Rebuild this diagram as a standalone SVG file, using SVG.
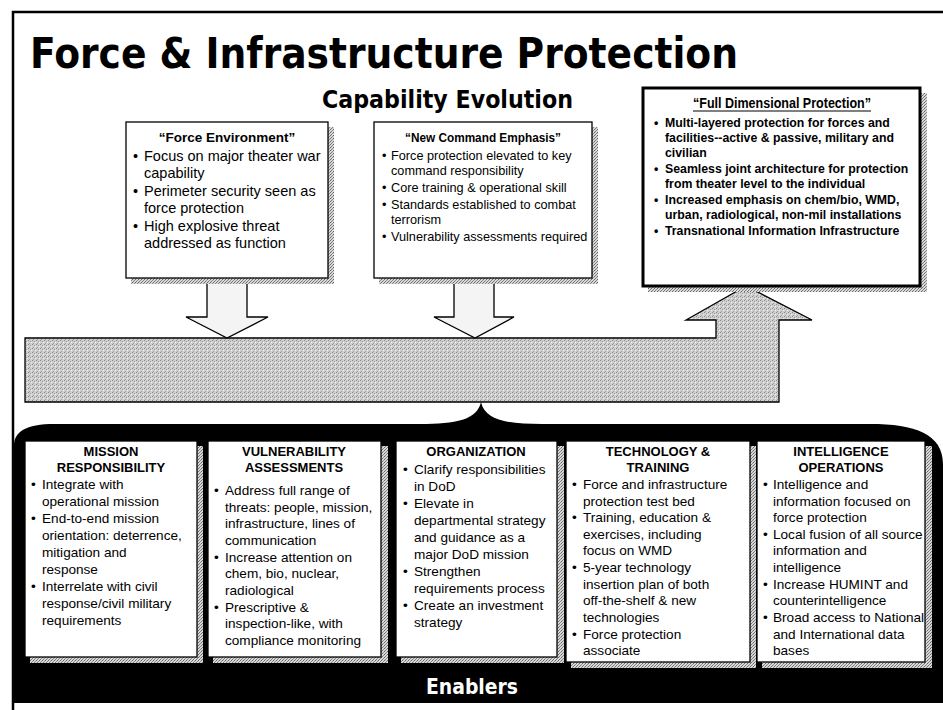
<svg xmlns="http://www.w3.org/2000/svg" width="943" height="710" viewBox="0 0 943 710">
<defs>
<style>
.t{font-family:"Liberation Sans",Arial,sans-serif;fill:#000}
.b{font-weight:bold}
.s13{font-size:13px}
.bt{font-size:13.6px}
.box{fill:#fff;stroke:#000;stroke-width:1.3}
.sh{fill:url(#dith)}
.c{text-anchor:middle}
.v{font-family:"DejaVu Sans",Verdana,sans-serif;font-weight:bold}
.arr{fill:#f4f4f4;stroke:#000;stroke-width:1.3}
</style>
<pattern id="dith" width="3" height="3" patternUnits="userSpaceOnUse">
<rect width="3" height="3" fill="#d8d8d8"/>
<rect width="1" height="1" fill="#666"/>
<rect x="2" y="1" width="1" height="1" fill="#888"/>
<rect x="1" y="2" width="1" height="1" fill="#777"/>
</pattern>
<pattern id="band" width="4" height="4" patternUnits="userSpaceOnUse">
<rect width="4" height="4" fill="#cfcfcf"/>
<rect width="1" height="1" fill="#8a8a8a"/>
<rect x="2" y="1" width="1" height="1" fill="#9a9a9a"/>
<rect x="1" y="3" width="1" height="1" fill="#a0a0a0"/>
<rect x="3" y="2" width="1" height="1" fill="#f0f0f0"/>
</pattern>
</defs>
<rect width="943" height="710" fill="#fff"/>
<path d="M13,710 V12 H943" fill="none" stroke="#000" stroke-width="2.5"/>

<text class="v" x="30" y="68" font-size="42" textLength="708" lengthAdjust="spacingAndGlyphs">Force &amp; Infrastructure Protection</text>
<text class="v" x="322" y="108" font-size="24" textLength="251" lengthAdjust="spacingAndGlyphs">Capability Evolution</text>

<g id="connectors">
<path d="M14,703 V446 C14,432 25,424 55,424 H420 C456,424 477,420 481,402 C485,420 506,424 542,424 H870 C915,424 943,434 943,464 V703 Z" fill="#000"/>
<path d="M25,338 H716 V320 H686 L746,286 L812,320 H779 V402 H25 Z" fill="url(#band)" stroke="#000" stroke-width="1.3"/>
<path class="arr" d="M207,278 H247 V317 H268 L227,338 L186,317 H207 Z"/>
<path class="arr" d="M454,278 H494 V317 H514 L475,338 L434,317 H454 Z"/>
</g>

<g id="force-environment">
<rect class="sh" x="131" y="127" width="203" height="157"/>
<rect class="box" x="126" y="122" width="202" height="156"/>
<text class="t b c" x="227" y="142" font-size="13.5">“Force Environment”</text>
<g class="t" font-size="14.5">
<text x="133" y="161">•</text><text x="144" y="161">Focus on major theater war</text>
<text x="144" y="178">capability</text>
<text x="133" y="196">•</text><text x="144" y="196">Perimeter security seen as</text>
<text x="144" y="213">force protection</text>
<text x="133" y="231">•</text><text x="144" y="231">High explosive threat</text>
<text x="144" y="248">addressed as function</text>
</g>
</g>

<g id="new-command-emphasis">
<rect class="sh" x="379" y="127" width="219" height="157"/>
<rect class="box" x="374" y="122" width="218" height="156"/>
<text class="t b c" x="483" y="142" font-size="13" textLength="156" lengthAdjust="spacingAndGlyphs">“New Command Emphasis”</text>
<g class="t" font-size="12.7">
<text x="382" y="160">•</text><text x="391" y="160">Force protection elevated to key</text>
<text x="391" y="175">command responsibility</text>
<text x="382" y="192">•</text><text x="391" y="192">Core training &amp; operational skill</text>
<text x="382" y="209">•</text><text x="391" y="209">Standards established to combat</text>
<text x="391" y="224">terrorism</text>
<text x="382" y="241">•</text><text x="391" y="241">Vulnerability assessments required</text>
</g>
</g>

<g id="full-dimensional-protection">
<rect class="sh" x="648" y="93" width="279" height="199"/>
<rect x="643" y="88" width="277" height="198" fill="#fff" stroke="#000" stroke-width="3"/>
<text class="t b c" x="782" y="108" font-size="14" textLength="178" lengthAdjust="spacingAndGlyphs">“Full Dimensional Protection”</text>
<line x1="693" y1="111" x2="871" y2="111" stroke="#000" stroke-width="1.2"/>
<g class="t b" font-size="12.3">
<text x="654" y="127">•</text><text x="665" y="127">Multi-layered protection for forces and</text>
<text x="665" y="142">facilities--active &amp; passive, military and</text>
<text x="665" y="157">civilian</text>
<text x="654" y="173">•</text><text x="665" y="173">Seamless joint architecture for protection</text>
<text x="665" y="188">from theater level to the individual</text>
<text x="654" y="204">•</text><text x="665" y="204">Increased emphasis on chem/bio, WMD,</text>
<text x="665" y="219">urban, radiological, non-mil installations</text>
<text x="654" y="235">•</text><text x="665" y="235">Transnational Information Infrastructure</text>
</g>
</g>

<g id="mission-responsibility">
<rect class="sh" x="30" y="446" width="173" height="217"/>
<rect class="box" x="25" y="441" width="172" height="216"/>
<g class="t b s13 c"><text x="111" y="456">MISSION</text><text x="111" y="472">RESPONSIBILITY</text></g>
<g class="t bt">
<text x="31" y="489">•</text><text x="42" y="489">Integrate with</text>
<text x="42" y="506">operational mission</text>
<text x="31" y="523">•</text><text x="42" y="523">End-to-end mission</text>
<text x="42" y="540">orientation: deterrence,</text>
<text x="42" y="557">mitigation and</text>
<text x="42" y="574">response</text>
<text x="31" y="591">•</text><text x="42" y="591">Interrelate with civil</text>
<text x="42" y="608">response/civil military</text>
<text x="42" y="625">requirements</text>
</g>
</g>

<g id="vulnerability-assessments">
<rect class="sh" x="213" y="446" width="175" height="217"/>
<rect class="box" x="208" y="441" width="173" height="216"/>
<g class="t b s13 c"><text x="294" y="456">VULNERABILITY</text><text x="294" y="472">ASSESSMENTS</text></g>
<g class="t bt">
<text x="214" y="495">•</text><text x="225" y="495">Address full range of</text>
<text x="225" y="512">threats: people, mission,</text>
<text x="225" y="528">infrastructure, lines of</text>
<text x="225" y="545">communication</text>
<text x="214" y="562">•</text><text x="225" y="562">Increase attention on</text>
<text x="225" y="578">chem, bio, nuclear,</text>
<text x="225" y="595">radiological</text>
<text x="214" y="612">•</text><text x="225" y="612">Prescriptive &amp;</text>
<text x="225" y="628">inspection-like, with</text>
<text x="225" y="645">compliance monitoring</text>
</g>
</g>

<g id="organization">
<rect class="sh" x="401" y="446" width="163" height="217"/>
<rect class="box" x="396" y="441" width="161" height="216"/>
<text class="t b s13 c" x="476" y="456">ORGANIZATION</text>
<g class="t bt">
<text x="403" y="474">•</text><text x="414" y="474">Clarify responsibilities</text>
<text x="414" y="491">in DoD</text>
<text x="403" y="508">•</text><text x="414" y="508">Elevate in</text>
<text x="414" y="525">departmental strategy</text>
<text x="414" y="542">and guidance as a</text>
<text x="414" y="559">major DoD mission</text>
<text x="403" y="576">•</text><text x="414" y="576">Strengthen</text>
<text x="414" y="593">requirements process</text>
<text x="403" y="610">•</text><text x="414" y="610">Create an investment</text>
<text x="414" y="627">strategy</text>
</g>
</g>

<g id="technology-training">
<rect class="sh" x="571" y="446" width="185" height="222"/>
<rect class="box" x="566" y="441" width="184" height="221"/>
<g class="t b s13 c"><text x="658" y="456">TECHNOLOGY &amp;</text><text x="658" y="472">TRAINING</text></g>
<g class="t bt">
<text x="572" y="489">•</text><text x="583" y="489">Force and infrastructure</text>
<text x="583" y="506">protection test bed</text>
<text x="572" y="522">•</text><text x="583" y="522">Training, education &amp;</text>
<text x="583" y="539">exercises, including</text>
<text x="583" y="555">focus on WMD</text>
<text x="572" y="572">•</text><text x="583" y="572">5-year technology</text>
<text x="583" y="589">insertion plan of both</text>
<text x="583" y="605">off-the-shelf &amp; new</text>
<text x="583" y="622">technologies</text>
<text x="572" y="639">•</text><text x="583" y="639">Force protection</text>
<text x="583" y="655">associate</text>
</g>
</g>

<g id="intelligence-operations">
<rect class="sh" x="762" y="446" width="170" height="222"/>
<rect class="box" x="757" y="441" width="168" height="221"/>
<g class="t b s13 c"><text x="841" y="456">INTELLIGENCE</text><text x="841" y="472">OPERATIONS</text></g>
<g class="t bt">
<text x="763" y="489">•</text><text x="773" y="489">Intelligence and</text>
<text x="773" y="506">information focused on</text>
<text x="773" y="522">force protection</text>
<text x="763" y="539">•</text><text x="773" y="539">Local fusion of all source</text>
<text x="773" y="555">information and</text>
<text x="773" y="572">intelligence</text>
<text x="763" y="589">•</text><text x="773" y="589">Increase HUMINT and</text>
<text x="773" y="605">counterintelligence</text>
<text x="763" y="622">•</text><text x="773" y="622">Broad access to National</text>
<text x="773" y="639">and International data</text>
<text x="773" y="655">bases</text>
</g>
</g>

<g id="enablers">
<text class="v c" x="472" y="694" font-size="21" fill="#fff" textLength="92" lengthAdjust="spacingAndGlyphs">Enablers</text>
</g>
</svg>
